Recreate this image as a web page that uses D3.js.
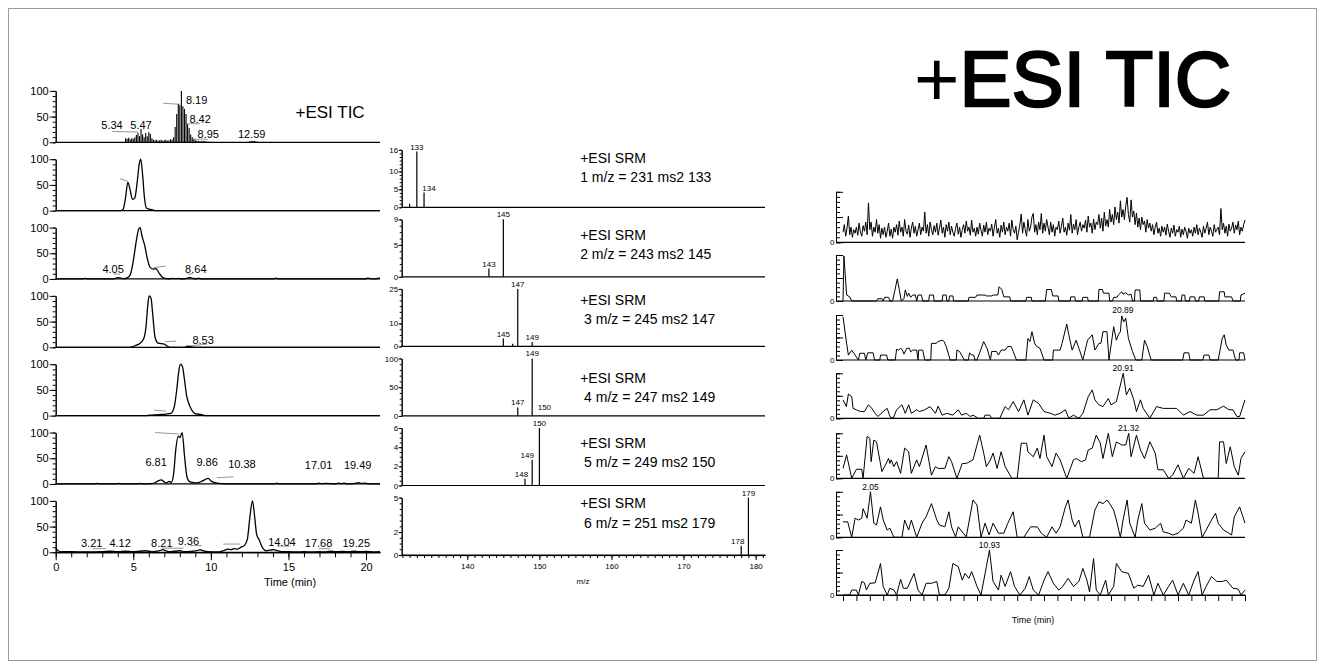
<!DOCTYPE html>
<html>
<head>
<meta charset="utf-8">
<script src="https://cdn.jsdelivr.net/npm/d3@7"></script>
<style>
body { margin: 0; background: #fff; }
</style>
</head>
<body>
<script>
// ---------- left column: chromatograms (time in min, relative %) ----------
const tic = [[4.5,8],[4.6,7],[4.7,9],[4.8,6],[4.9,8],[5.0,7],[5.1,10],[5.2,14],[5.3,18],[5.4,12],[5.5,26],[5.6,15],
    [5.7,10],[5.8,18],[5.9,12],[6.0,20],[6.1,16],[6.2,8],[6.3,5],[6.4,4],[6.5,5],[6.6,3],[6.7,4],[6.8,5],[6.9,3],
    [7.0,4],[7.1,5],[7.2,3],[7.3,4],[7.4,6],[7.5,5],[7.6,10],[7.7,30],[7.8,55],[7.9,74],[8.0,72],[8.1,100],[8.2,70],
    [8.3,65],[8.4,55],[8.5,35],[8.6,28],[8.7,15],[8.8,10],[8.9,6],[9.0,4],[9.1,3],[9.2,3],[9.3,2],[9.4,2],[9.5,3],
    [9.6,2],[9.7,2],[9.8,1],[9.9,1],[10.0,1],[12.4,1],[12.5,2],[12.6,3],[12.7,2],[12.8,3],[12.9,2],[13.0,1]]

const srm1 = [[0,0],[4.2,0],[4.35,3],[4.5,25],[4.65,55],[4.8,40],[4.95,22],[5.1,25],[5.25,55],[5.38,90],[5.48,100],
    [5.6,70],[5.72,25],[5.85,5],[6.0,3],[6.2,2],[6.4,0],[20.9,0]]
const srm2 = [[0,0],[1.7,0],[1.9,1],[2.1,0],[3.8,0],[3.95,2.5],[4.15,2],[4.4,0.5],[4.6,2],[4.8,8],[5.0,35],[5.2,75],
    [5.35,97],[5.44,100],[5.55,85],[5.76,62],[5.9,40],[6.1,22],[6.3,19],[6.47,20],[6.65,12],[6.85,4],[7.05,1],
    [7.3,0],[7.5,1],[7.7,0.5],[7.9,1],[8.1,0],[8.45,1],[8.64,3],[8.85,1],[9.05,0],[9.2,1.5],[9.4,0],[14.0,0],
    [14.2,1.5],[14.4,0],[19.9,0],[20.1,1.5],[20.3,0.5],[20.6,0],[20.8,1.5],[20.9,1]]
const srm3 = [[0,0],[4.68,0],[5.1,3],[5.44,8],[5.65,15],[5.82,40],[5.93,80],[6.02,100],[6.14,96],[6.25,65],[6.4,20],
    [6.6,8],[7.0,6],[7.2,2],[7.4,0],[8.3,0],[8.5,2],[8.7,1],[8.9,0],[20.9,0]]
const srm4 = [[0,0],[5.9,0],[6.0,1],[6.7,2],[7.1,3],[7.45,5],[7.66,20],[7.8,50],[7.95,90],[8.05,100],[8.17,95],
    [8.3,70],[8.43,40],[8.56,25],[8.75,12],[8.97,4],[9.4,2],[9.7,0],[20.9,0]]
const srm5 = [[0,0],[2.5,0],[2.65,1],[2.8,0],[3.9,0],[4.05,1],[4.2,0],[5.3,0],[5.45,1],[5.6,0],[6.3,1],[6.6,6],
    [6.8,8],[7.0,4],[7.15,2],[7.3,5],[7.45,3],[7.6,20],[7.75,70],[7.9,93],[8.0,90],[8.15,100],[8.3,55],[8.45,15],
    [8.6,5],[8.8,3],[9.1,2],[9.4,5],[9.65,9],[9.83,11],[10.0,6],[10.2,3],[10.5,1],[10.8,0.5],[11.0,0],[14.1,0],
    [14.25,1.5],[14.4,0],[16.8,0],[16.95,1.5],[17.1,0.5],[17.4,1],[18.0,0],[18.2,1.5],[18.4,0.5],[18.6,1.5],
    [18.8,0],[19.3,1],[19.5,2.5],[19.7,1],[19.95,1.5],[20.2,0],[20.9,0]]
const srm6 = [[0,8],[0.15,3],[0.4,1],[1,1],[2,0.5],[3,1],[3.5,2],[4,1],[4.5,2],[5,1],[5.8,3],[6.2,1],[6.7,3],
    [6.9,5],[7.1,3],[7.3,1],[8.0,3],[8.3,1],[8.8,2],[9.1,3],[9.3,5],[9.5,3],[9.8,1],[10.4,0.5],[10.8,3],[11.1,6],
    [11.3,5],[11.5,7],[11.7,6],[11.95,10],[12.15,13],[12.35,25],[12.52,70],[12.68,100],[12.82,70],[12.95,35],
    [13.1,25],[13.35,8],[13.55,3],[13.8,4],[14.04,5],[14.3,3],[14.6,1],[15,1],[15.5,0.5],[16,1],[16.5,0.5],[17,1],
    [17.3,0.5],[17.7,2],[18,1],[18.5,1.5],[18.9,1],[19.25,2],[19.5,1],[20,1.5],[20.5,0.5],[20.9,1]]

// peak labels: text with its place in (time, %) and grey leader lines [t1, v1, t2, v2]
const leftLabels = [
    [['5.34',3.63,26],['5.47',5.5,26],['8.19',9.08,75],['8.42',9.31,37],['8.95',9.83,8],['12.59',12.63,8]],
    [],
    [['4.05',3.7,12],['8.64',9.03,12]],
    [['8.53',9.5,6]],
    [],
    [['6.81',6.47,35],['9.86',9.76,35],['10.38',12.0,31],['17.01',16.94,29],['19.49',19.46,29]],
    [['3.21',2.32,11],['4.12',4.15,11],['8.21',6.84,11],['9.36',8.55,15],['14.04',14.58,13],['17.68',16.94,10],['19.25',19.37,11]]
]
const leftLeaders = [
    [[3.63,21,5.31,20],[6.93,76,8.0,74],[8.38,36,9.3,36],[8.86,6,9.83,6]],
    [[4.14,62,4.66,57]],
    [[3.72,10,4.15,9],[6.3,22,7.1,25],[8.5,9,8.85,10]],
    [[7.05,11,7.77,12],[8.55,2.5,9.75,6]],
    [[6.34,11,7.12,8.5]],
    [[6.4,100,7.97,97],[10.39,12,11.46,14]],
    [[2.39,7,3.25,7],[6.84,8,8.24,8],[8.66,13,9.41,13],[10.8,16,11.9,16],[14.28,12,15.14,12],[16.94,7,17.7,7]]
]
const timeTicks = [0, 5, 10, 15, 20]

// ---------- middle column: product ion spectra (m/z, intensity) ----------
const spec1 = [[132,1],[133,15.5],[134,4.1]]
const spec2 = [[143,1.3],[145,9]]
const spec3 = [[145,3.4],[146.3,1.2],[147,25],[149,1.9]]
const spec4 = [[147,14.8],[149,100],[150,0.8]]
const spec5 = [[148,0.7],[149,2.7],[150,6]]
const spec6 = [[178,0.8],[179,5]]
const specMax = [16, 9, 25, 100, 6, 5]
const specTickLabels = [[0,5,10,16],[0,5,9],[0,10,25],[0,50,100],[0,2,4,6],[0,2,5]]
const specMinor = [1, 1, 2.5, 10, 0.5, 0.5]
const specPeakLabels = [[133,134],[143,145],[145,147,149],[147,149,150],[148,149,150],[178,179]]
const srmTitles = ['1 m/z = 231 ms2 133', '2 m/z = 243 ms2 145', ' 3 m/z = 245 ms2 147',
    ' 4 m/z = 247 ms2 149', ' 5 m/z = 249 ms2 150', ' 6 m/z = 251 ms2 179']
const mzTicks = [140, 150, 160, 170, 180]

// ---------- right column: traces 0-30 min (relative %) ----------
// total ion trace, one value every 0.1 min
const noiseTic = [
    20,35,12,28,52,15,30,10,25,18, 30,14,38,20,12,33,22,40,15,78, 25,40,12,30,20,45,18,35,8,28,
    15,30,10,22,38,12,26,8,30,20, 35,14,42,20,30,12,45,22,16,34, 10,28,40,18,32,12,25,38,15,30,
    22,60,18,35,12,40,25,15,33,20, 38,14,28,44,18,30,10,35,22,40, 15,32,20,12,28,38,16,30,10,25,
    35,18,42,22,30,14,44,20,28,12, 30,16,38,24,12,34,20,40,15,28, 22,36,12,30,45,18,28,10,34,20,
    40,15,30,22,38,12,44,25,18,32, 5,20,35,56,18,40,25,12,45,22, 30,50,57,20,35,15,40,25,57,18,
    38,22,45,30,15,40,20,35,12,30, 25,42,18,32,48,20,30,14,38,24, 55,18,36,25,45,15,30,40,22,35,
    28,44,20,52,30,38,18,46,25,40, 35,55,28,48,22,60,32,45,30,65, 40,55,35,70,45,60,38,82,50,65,
    45,72,89,55,40,84,50,62,35,58, 30,48,25,50,35,42,20,45,28,38, 22,35,15,30,40,18,28,12,32,20,
    30,14,36,22,10,28,18,34,12,25, 20,32,10,26,15,30,22,8,28,18, 25,12,30,18,35,15,28,20,10,32,
    18,28,40,15,30,22,12,35,20,26, 30,15,67,25,38,18,32,12,36,22, 28,40,18,34,25,42,15,30,22,35, 44]
const rt1 = [[0,0],[0.07,98],[0.27,13],[0.5,9],[0.65,0],[2.5,0],[2.6,5],[2.9,5],[3.0,0],[3.1,8],[3.4,8],[3.5,0],
    [3.7,0],[3.85,20],[4.05,48],[4.2,25],[4.35,0],[4.55,5],[4.65,24],[4.8,10],[4.9,17],[5.05,8],[5.2,13],[5.4,13],
    [5.5,0],[5.6,13],[5.85,13],[5.95,0],[6.4,0],[6.45,13],[6.75,13],[6.8,0],[7.4,0],[7.45,13],[7.7,13],[7.75,0],
    [7.9,0],[7.95,11],[8.2,11],[8.25,0],[9.35,0],[9.4,8],[9.7,8],[9.9,8],[10.0,13],[10.6,13],[10.7,11],[11.1,11],
    [11.2,13],[11.55,13],[11.65,31],[11.85,25],[12.0,9],[12.45,9],[12.5,0],[13.65,0],[13.7,8],[14.05,8],[14.1,0],
    [15.1,0],[15.2,25],[15.55,25],[15.65,11],[16.05,11],[16.1,0],[16.95,0],[17.0,9],[17.3,9],[17.35,0],[17.85,0],
    [17.9,8],[18.25,8],[18.3,0],[19.05,0],[19.1,25],[19.35,25],[19.45,17],[19.85,17],[19.9,0],[20.1,0],[20.2,8],
    [20.45,8],[20.55,13],[20.8,20],[20.9,15],[21.1,18],[21.3,13],[21.5,15],[21.6,0],[21.75,0],[21.8,24],[22.15,24],
    [22.2,0],[23.15,0],[23.2,8],[23.4,8],[23.45,0],[23.95,0],[24.0,17],[24.35,17],[24.5,9],[24.85,9],[24.9,0],
    [25.25,0],[25.3,13],[25.5,13],[25.55,0],[25.85,0],[25.9,9],[26.25,9],[26.3,0],[26.55,0],[26.6,9],[26.95,9],
    [27.0,0],[28.05,0],[28.1,20],[28.45,20],[28.5,9],[29.0,9],[29.1,0],[29.65,0],[29.7,13],[30,17]]
const rt2 = [[0,96],[0.27,37],[0.4,11],[0.65,22],[0.9,11],[1.15,0],[1.25,15],[1.6,15],[1.7,0],[1.85,16],[2.25,16],
    [2.35,0],[2.75,0],[2.8,11],[3.25,11],[3.35,0],[3.9,0],[4.0,24],[4.15,22],[4.3,26],[4.4,24],[4.55,13],[4.75,26],
    [4.95,26],[5.05,18],[5.2,22],[5.5,22],[5.6,0],[5.65,22],[5.95,22],[6.1,0],[6.55,0],[6.6,37],[6.95,37],[7.1,41],
    [7.4,44],[7.55,41],[7.7,30],[8.0,0],[8.45,0],[8.5,22],[8.7,19],[8.85,11],[9.05,0],[9.35,0],[9.45,16],[9.6,11],
    [9.75,11],[9.85,0],[10.0,0],[10.5,41],[10.75,26],[11.0,0],[11.1,19],[11.45,19],[11.6,11],[11.8,22],[12.1,22],
    [12.3,30],[12.55,30],[12.7,19],[12.95,0],[13.65,0],[13.8,48],[13.95,41],[14.1,63],[14.3,37],[14.45,30],
    [14.7,26],[15.0,0],[15.65,0],[15.7,22],[16.2,22],[16.35,37],[16.7,80],[16.85,56],[17.1,22],[17.4,44],[17.65,22],
    [17.9,0],[18.25,44],[18.6,56],[18.8,22],[19.1,37],[19.25,37],[19.4,63],[19.7,63],[19.85,0],[20.2,74],[20.4,44],
    [20.55,56],[20.7,63],[20.8,98],[20.95,85],[21.1,93],[21.2,70],[21.3,48],[21.6,19],[21.85,0],[22.3,0],[22.5,44],
    [22.7,30],[23.0,0],[25.35,0],[25.45,16],[25.8,16],[25.9,0],[26.85,0],[26.95,11],[27.3,11],[27.4,0],[28.0,0],
    [28.3,48],[28.45,56],[28.6,33],[28.8,22],[29.1,22],[29.3,0],[29.55,0],[29.6,16],[29.9,16],[30,0]]
const rt3 = [[0,41],[0.25,26],[0.4,54],[0.65,48],[0.75,22],[1.0,19],[1.3,15],[1.6,15],[1.9,30],[2.15,22],[2.4,11],
    [2.6,4],[3.0,15],[3.3,22],[3.5,4],[3.75,0],[4.0,19],[4.4,30],[4.65,11],[4.9,30],[5.1,11],[5.5,19],[5.7,15],
    [6.1,19],[6.5,26],[6.9,11],[7.1,27],[7.4,7],[7.75,11],[8.2,7],[8.6,19],[8.85,7],[9.2,11],[9.5,4],[9.7,7],
    [10.1,0],[10.5,0],[10.6,7],[10.95,7],[11.1,0],[11.7,0],[12.1,26],[12.35,19],[12.7,37],[13.1,15],[13.5,41],
    [13.8,7],[14.2,41],[14.6,33],[15.0,15],[15.5,11],[15.8,7],[16.2,11],[16.6,19],[16.85,0],[17.2,7],[17.6,0],
    [17.9,11],[18.3,48],[18.6,63],[18.8,41],[19.1,30],[19.4,26],[19.8,44],[20.0,30],[20.4,37],[20.7,74],[20.91,100],
    [21.15,52],[21.4,67],[21.7,41],[21.9,15],[22.2,41],[22.4,22],[22.9,0],[23.4,26],[23.9,22],[24.4,22],[24.9,22],
    [25.4,7],[25.9,15],[26.4,7],[26.9,7],[27.4,19],[27.9,19],[28.4,27],[28.8,19],[29.1,19],[29.4,4],[29.6,4],[30,41]]
const rt4 = [[0,22],[0.27,52],[0.65,0],[1.0,20],[1.4,20],[1.5,0],[1.8,93],[2.0,89],[2.1,37],[2.3,85],[2.5,81],
    [2.9,15],[3.1,26],[3.4,44],[3.5,33],[3.6,41],[3.8,26],[4.0,37],[4.3,11],[4.6,67],[4.9,59],[5.1,11],[5.5,41],
    [5.7,26],[6.2,74],[6.6,7],[6.9,26],[7.1,22],[7.6,22],[7.9,48],[8.1,37],[8.5,0],[8.9,33],[9.2,33],[9.7,41],
    [10.2,96],[10.5,56],[10.7,26],[11.0,41],[11.2,56],[11.5,22],[11.8,59],[12.1,26],[12.6,0],[13.0,0],[13.3,78],
    [13.7,78],[13.8,59],[14.2,48],[14.5,67],[14.7,44],[15.0,96],[15.2,48],[15.6,26],[15.9,56],[16.2,41],[16.7,0],
    [17.2,41],[17.4,44],[17.8,37],[18.1,41],[18.3,63],[18.6,67],[18.9,96],[19.2,78],[19.4,44],[19.8,100],[20.1,48],
    [20.4,81],[20.8,74],[21.1,74],[21.32,100],[21.5,48],[21.9,96],[22.2,63],[22.5,44],[22.9,81],[23.3,56],[23.5,19],
    [23.9,19],[24.3,0],[24.6,7],[25.0,30],[25.4,0],[25.8,22],[26.2,11],[26.5,48],[26.9,0],[28.0,0],[28.1,81],
    [28.4,81],[28.6,33],[28.9,70],[29.2,26],[29.5,7],[29.7,44],[30,59]]
const rt5 = [[0,34],[0.35,34],[0.65,0],[0.9,42],[1.15,38],[1.4,42],[1.5,63],[1.8,42],[2.05,100],[2.3,31],[2.5,27],
    [2.8,67],[3.0,38],[3.3,16],[3.5,20],[3.8,0],[4.4,0],[4.6,38],[4.9,16],[5.1,38],[5.5,0],[5.9,31],[6.2,45],
    [6.6,74],[7.0,38],[7.2,27],[7.6,23],[7.9,56],[8.1,23],[8.4,1],[8.6,23],[9.2,1],[9.7,82],[10.0,71],[10.3,0],
    [10.6,31],[10.9,5],[11.2,31],[11.6,9],[12.0,9],[12.3,31],[12.7,56],[13.0,0],[13.5,0],[14.0,23],[14.5,23],
    [14.8,9],[15.2,0],[15.6,23],[15.9,9],[16.2,23],[16.6,67],[16.8,82],[17.1,38],[17.3,23],[17.6,38],[17.9,0],
    [18.4,0],[18.8,60],[19.1,78],[19.4,74],[19.7,82],[19.9,74],[20.2,60],[20.4,38],[20.7,0],[20.9,38],[21.2,82],
    [21.4,31],[21.8,0],[22.0,38],[22.3,74],[22.5,31],[22.9,16],[23.3,20],[23.7,31],[23.9,12],[24.3,9],[24.6,5],
    [25.0,9],[25.4,20],[25.6,38],[26.0,31],[26.3,82],[26.5,53],[26.8,0],[27.1,16],[27.5,38],[27.8,53],[28.0,31],
    [28.4,16],[28.8,9],[29.0,5],[29.2,45],[29.6,67],[30,31]]
const rt6 = [[0,0],[0.5,0],[0.65,11],[1.0,11],[1.15,0],[1.4,30],[1.6,27],[1.75,11],[2.0,26],[2.4,27],[2.8,70],
    [3.0,19],[3.3,0],[3.5,15],[3.8,11],[4.0,0],[4.3,35],[4.5,15],[4.8,15],[5.3,48],[5.6,11],[5.9,0],[6.2,26],
    [6.6,26],[7.0,30],[7.2,0],[7.6,0],[7.9,15],[8.2,70],[8.6,63],[8.9,33],[9.1,48],[9.4,37],[9.6,52],[10.0,19],
    [10.3,0],[10.7,63],[10.93,100],[11.2,30],[11.6,11],[11.8,44],[12.1,19],[12.5,52],[12.8,19],[13.2,0],[13.6,15],
    [13.9,41],[14.2,11],[14.6,0],[15.0,33],[15.3,52],[15.7,26],[16.1,11],[16.4,19],[16.8,37],[17.2,19],[17.6,30],
    [17.9,59],[18.2,33],[18.4,7],[18.7,81],[18.9,11],[19.2,0],[19.6,33],[19.8,0],[20.2,19],[20.4,70],[20.8,52],
    [21.3,48],[21.7,15],[22.0,22],[22.4,19],[22.8,44],[23.2,0],[23.5,26],[23.9,0],[24.3,19],[24.6,33],[25.0,0],
    [25.4,26],[25.8,0],[26.2,33],[26.5,52],[26.8,0],[27.1,19],[27.5,41],[27.9,30],[28.3,30],[28.6,33],[29.1,15],
    [29.5,13],[29.7,0],[30,11]]
const rightPeakLabels = [null, null, '20.89', '20.91', '21.32', '2.05', '10.93']

// ---------- drawing ----------
const font = '"Liberation Sans", Arial, Helvetica, sans-serif'
const svg = d3.select('body').append('svg')
    .attr('width', 1325)
    .attr('height', 669)
    .style('font-family', font)

// outer frame
svg.append('rect')
    .attr('x', 8.5).attr('y', 8.5)
    .attr('width', 1308).attr('height', 652)
    .attr('fill', 'none')
    .attr('stroke', '#9a9a9a')

function styleAxis(sel, size) {
    sel.attr('font-family', font).attr('font-size', size)
    sel.selectAll('line').attr('stroke', '#000')
    sel.selectAll('path').attr('stroke', '#000')
    sel.selectAll('text').attr('fill', '#000')
}

//left column
const xL = d3.scaleLinear().domain([0, 20.9]).range([55.7, 380])
const leftTraces = [tic, srm1, srm2, srm3, srm4, srm5, srm6]

leftTraces.forEach(function(data, i) {
    const base = 142.3 + i * 68.33
    const y = d3.scaleLinear().domain([0, 100]).range([base, base - 51.4])
    const g = svg.append('g')

    g.append('g')
        .attr('transform', 'translate(' + xL(0) + ',0)')
        .call(d3.axisLeft(y).tickValues(d3.range(0, 101, 10)).tickSize(3).tickSizeOuter(0).tickFormat(''))
        .call(styleAxis, 11)
    g.append('g')
        .attr('transform', 'translate(' + xL(0) + ',0)')
        .call(d3.axisLeft(y).tickValues([0, 50, 100]).tickSize(6).tickSizeOuter(0).tickPadding(1).tickFormat(d3.format('d')))
        .call(styleAxis, 11)

    g.append('line')
        .attr('x1', xL(0)).attr('x2', xL(20.9))
        .attr('y1', base).attr('y2', base)
        .attr('stroke', '#000').attr('stroke-width', 1.2)

    // grey leader lines
    g.selectAll('.leader')
        .data(leftLeaders[i])
        .enter()
        .append('line')
        .attr('x1', d => xL(d[0])).attr('y1', d => y(d[1]))
        .attr('x2', d => xL(d[2])).attr('y2', d => y(d[3]))
        .attr('stroke', '#8a8a8a').attr('stroke-width', 0.9)

    if (i == 0) {
        g.selectAll('.stick')
            .data(data)
            .enter()
            .append('line')
            .attr('x1', d => xL(d[0])).attr('x2', d => xL(d[0]))
            .attr('y1', base).attr('y2', d => y(d[1]))
            .attr('stroke', '#000').attr('stroke-width', 1.1)
    } else {
        g.append('path')
            .datum(data)
            .attr('d', d3.line().x(d => xL(d[0])).y(d => y(d[1])).curve(d3.curveMonotoneX))
            .attr('fill', 'none')
            .attr('stroke', '#000')
            .attr('stroke-width', 1.3)
    }

    g.selectAll('.lbl')
        .data(leftLabels[i])
        .enter()
        .append('text')
        .text(d => d[0])
        .attr('x', d => xL(d[1]))
        .attr('y', d => y(d[2]))
        .attr('text-anchor', 'middle')
        .style('font-size', '11px')

    if (i == leftTraces.length - 1) {
        g.append('g')
            .attr('transform', 'translate(0,' + base + ')')
            .call(d3.axisBottom(xL).tickValues(d3.range(0, 21, 1)).tickSize(5).tickSizeOuter(0).tickFormat(''))
            .call(styleAxis, 11)
        g.append('g')
            .attr('transform', 'translate(0,' + base + ')')
            .call(d3.axisBottom(xL).tickValues(timeTicks).tickSize(8).tickSizeOuter(0).tickPadding(3).tickFormat(d3.format('d')))
            .call(styleAxis, 11)
        g.append('text')
            .text('Time (min)')
            .attr('x', 290).attr('y', 586)
            .attr('text-anchor', 'middle')
            .style('font-size', '11px')
    }
})

svg.append('text')
    .text('+ESI TIC')
    .attr('x', 295.5).attr('y', 118.3)
    .style('font-size', '17px')

//middle column
const xM = d3.scaleLinear().domain([130.9, 181.3]).range([401.7, 765])
const spectra = [spec1, spec2, spec3, spec4, spec5, spec6]
const labelShift = {'0-134': 5, '3-150': 5, '4-149': -5, '4-148': -3.5, '5-178': -3.5}
const titleY = [[162.7, 182.2], [240, 258.5], [304.5, 323.5], [382.7, 401.5], [448.3, 467], [508.3, 527.5]]

spectra.forEach(function(data, i) {
    const base = 207.3 + i * 69.55
    const y = d3.scaleLinear().domain([0, specMax[i]]).range([base, base - 57.5])
    const g = svg.append('g')

    g.append('g')
        .attr('transform', 'translate(' + xM.range()[0] + ',0)')
        .call(d3.axisLeft(y).tickValues(d3.range(0, specMax[i] + 0.001, specMinor[i])).tickSize(2).tickSizeOuter(0).tickFormat(''))
        .call(styleAxis, 8)
    g.append('g')
        .attr('transform', 'translate(' + xM.range()[0] + ',0)')
        .call(d3.axisLeft(y).tickValues(specTickLabels[i]).tickSize(3).tickSizeOuter(0).tickPadding(0.5).tickFormat(d3.format('d')))
        .call(styleAxis, 8)

    g.append('line')
        .attr('x1', xM.range()[0]).attr('x2', xM.range()[1])
        .attr('y1', base).attr('y2', base)
        .attr('stroke', '#000').attr('stroke-width', 1.2)

    g.selectAll('.bar')
        .data(data)
        .enter()
        .append('line')
        .attr('x1', d => xM(d[0])).attr('x2', d => xM(d[0]))
        .attr('y1', base).attr('y2', d => y(d[1]))
        .attr('stroke', '#000').attr('stroke-width', 1.2)

    g.selectAll('.lbl')
        .data(data.filter(d => specPeakLabels[i].includes(d[0])))
        .enter()
        .append('text')
        .text(d => d[0])
        .attr('x', d => xM(d[0]) + (labelShift[i + '-' + d[0]] || 0))
        .attr('y', d => Math.min(y(d[1]), base - 3.5) - 2)
        .attr('text-anchor', 'middle')
        .style('font-size', '8px')

    g.append('text')
        .text('+ESI SRM')
        .attr('x', 580.2).attr('y', titleY[i][0])
        .style('font-size', '14px')
    g.append('text')
        .text(srmTitles[i])
        .attr('x', 580.2).attr('y', titleY[i][1])
        .style('font-size', '14px')
        .style('white-space', 'pre')

    if (i == spectra.length - 1) {
        g.append('g')
            .attr('transform', 'translate(0,' + base + ')')
            .call(d3.axisBottom(xM).tickValues(d3.range(131, 182, 1)).tickSize(3).tickSizeOuter(0).tickFormat(''))
            .call(styleAxis, 8)
        g.append('g')
            .attr('transform', 'translate(0,' + base + ')')
            .call(d3.axisBottom(xM).tickValues(mzTicks).tickSize(5).tickSizeOuter(0).tickPadding(3.5).tickFormat(d3.format('d')))
            .call(styleAxis, 8)
        g.append('text')
            .text('m/z')
            .attr('x', 583).attr('y', 583.5)
            .attr('text-anchor', 'middle')
            .style('font-size', '8px')
    }
})

//right column
const xR = d3.scaleLinear().domain([0, 30]).range([843, 1245])
const rightTraces = [noiseTic.map((v, k) => [k * 0.1, v]), rt1, rt2, rt3, rt4, rt5, rt6]
const rightBase = [242.3, 301, 360, 418.3, 478.3, 537.3, 595]
const rightH = [50.5, 46, 45, 45, 45, 45.5, 45]
const yAxisX = 836

rightTraces.forEach(function(data, i) {
    const base = rightBase[i]
    const y = d3.scaleLinear().domain([0, 100]).range([base, base - rightH[i]])
    const g = svg.append('g')

    g.append('g')
        .attr('transform', 'translate(' + yAxisX + ',0)')
        .call(d3.axisRight(y).tickValues(d3.range(0, 101, 10)).tickSize(4).tickSizeOuter(0).tickFormat(''))
        .call(styleAxis, 8)
    g.append('g')
        .attr('transform', 'translate(' + yAxisX + ',0)')
        .call(d3.axisRight(y).tickValues([0, 50, 100]).tickSize(7).tickSizeOuter(0).tickFormat(''))
        .call(styleAxis, 8)

    g.append('text')
        .text('0')
        .attr('x', yAxisX - 1.5).attr('y', base + 3)
        .attr('text-anchor', 'end')
        .style('font-size', '8px')

    g.append('line')
        .attr('x1', yAxisX).attr('x2', xR(30))
        .attr('y1', base).attr('y2', base)
        .attr('stroke', '#000').attr('stroke-width', 1.2)

    g.append('path')
        .datum(data)
        .attr('d', d3.line().x(d => xR(d[0])).y(d => y(d[1])))
        .attr('fill', 'none')
        .attr('stroke', '#000')
        .attr('stroke-width', i == 0 ? 1 : 1)

    if (rightPeakLabels[i]) {
        g.append('text')
            .text(rightPeakLabels[i])
            .attr('x', xR(+rightPeakLabels[i]))
            .attr('y', y(100) - 2)
            .attr('text-anchor', 'middle')
            .style('font-size', '8.5px')
    }

    if (i == rightTraces.length - 1) {
        g.append('g')
            .attr('transform', 'translate(0,' + base + ')')
            .call(d3.axisBottom(xR).tickValues(d3.range(0, 31, 1)).tickSize(6).tickSizeOuter(0).tickFormat(''))
            .call(styleAxis, 8)
        g.append('text')
            .text('Time (min)')
            .attr('x', 1033).attr('y', 623)
            .attr('text-anchor', 'middle')
            .style('font-size', '9px')
    }
})

// big title, letters a little heavier than the plus sign
const big = svg.append('text')
    .attr('x', 914).attr('y', 106)
    .style('font-size', '78px')
big.append('tspan').text('+')
big.append('tspan').text('ESI TIC')
    .attr('stroke', '#000').attr('stroke-width', 2.4).attr('stroke-linejoin', 'miter')
</script>
</body>
</html>
